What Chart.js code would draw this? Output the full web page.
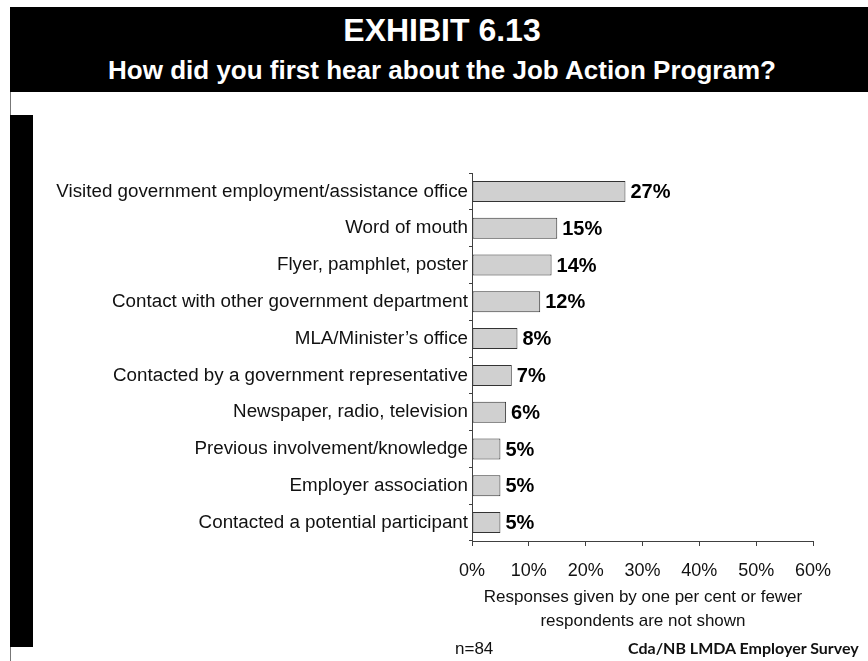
<!DOCTYPE html>
<html lang="en">
<head>
    <meta charset="UTF-8">
    <script src="https://cdn.jsdelivr.net/npm/chart.js@4.4.1/dist/chart.umd.min.js"></script>
    <title>Exhibit 6.13</title>
    <style>
        body { margin: 0; background: #fff; font-family: "Liberation Sans", Arial, sans-serif; }
        #page { position: relative; width: 868px; height: 661px; overflow: hidden; }
        #chart-area { position: absolute; left: 0; top: 0; }
        .header { position: absolute; left: 10px; top: 7px; width: 858px; height: 85px; background: #000; }
        .header div { position: absolute; left: 6px; right: 0; text-align: center; color: #fff; font-weight: bold; line-height: 1; white-space: nowrap; }
        .sidebar { position: absolute; left: 10px; top: 115px; width: 23px; height: 532px; background: #000; }
        .rule { position: absolute; left: 10px; top: 92px; width: 1px; height: 569px; background: #777; }
        .note { position: absolute; color: #111; font-size: 17px; line-height: 1; white-space: nowrap; }
    </style>
</head>
<body>
<div id="page">
    <canvas id="chart-area" width="868" height="661"></canvas>
    <div class="header">
        <div style="top: 7px; font-size: 32px;">EXHIBIT 6.13</div>
        <div style="top: 50px; font-size: 26px;">How did you first hear about the Job Action Program?</div>
    </div>
    <div class="rule"></div>
    <div class="sidebar"></div>
    <div class="note" style="left: 443px; width: 400px; text-align: center; top: 588px;">Responses given by one per cent or fewer</div>
    <div class="note" style="left: 443px; width: 400px; text-align: center; top: 612px;">respondents are not shown</div>
    <div class="note" style="left: 455px; top: 640px;">n=84</div>
    <div class="note" style="left: 628px; top: 640px; font-family: Lato, sans-serif; font-weight: bold; font-size: 16px;">Cda/NB LMDA Employer Survey</div>
</div>
<script type="text/javascript">
    var sources = [
        "Visited government employment/assistance office",
        "Word of mouth",
        "Flyer, pamphlet, poster",
        "Contact with other government department",
        "MLA/Minister\u2019s office",
        "Contacted by a government representative",
        "Newspaper, radio, television",
        "Previous involvement/knowledge",
        "Employer association",
        "Contacted a potential participant"
    ];
    var percents = [27, 15, 14, 12, 8, 7, 6, 5, 5, 5];
    var axisTicks = [0, 10, 20, 30, 40, 50, 60];

    var fontFamily = '"Liberation Sans", Arial, sans-serif';

    // writes the bold % figure just past the end of each bar
    var valueLabels = {
        id: 'valueLabels',
        afterDatasetsDraw: function(chart) {
            var ctx = chart.ctx;
            var meta = chart.getDatasetMeta(0);
            ctx.save();
            ctx.font = 'bold 20px ' + fontFamily;
            ctx.fillStyle = '#000';
            ctx.textBaseline = 'middle';
            ctx.textAlign = 'left';
            meta.data.forEach(function(bar, i) {
                ctx.fillText(percents[i] + '%', bar.x + 5, bar.y + 1);
            });
            ctx.restore();
        }
    };

    var config = {
        type: 'bar',
        data: {
            labels: sources,
            datasets: [{
                data: percents,
                backgroundColor: '#d0d0d0',
                borderColor: '#333333',
                borderWidth: 1,
                borderSkipped: false,
                barPercentage: 0.57,
                categoryPercentage: 1.0
            }]
        },
        options: {
            indexAxis: 'y',
            responsive: false,
            animation: false,
            devicePixelRatio: 1,
            layout: { padding: { left: 0, top: 173, right: 55, bottom: 80 } },
            plugins: {
                legend: { display: false },
                tooltip: { enabled: false }
            },
            scales: {
                x: {
                    min: 0,
                    max: 60,
                    afterBuildTicks: function(scale) {
                        scale.ticks = axisTicks.map(function(v) { return { value: v }; });
                    },
                    afterFit: function(scale) { scale.height = 40; },
                    border: { display: true, color: '#404040', width: 1 },
                    grid: { display: true, drawOnChartArea: false, drawTicks: true, tickLength: 5, color: '#404040' },
                    ticks: {
                        callback: function(v) { return v + '%'; },
                        color: '#111',
                        padding: 14,
                        maxRotation: 0,
                        font: { family: fontFamily, size: 18 }
                    }
                },
                y: {
                    afterFit: function(scale) { scale.width = 472; },
                    border: { display: true, color: '#404040', width: 1 },
                    grid: { display: true, drawOnChartArea: false, drawTicks: true, tickLength: 3, offset: true, color: '#404040' },
                    ticks: {
                        autoSkip: false,
                        color: '#111',
                        padding: 1,
                        font: { family: fontFamily, size: 18.8 }
                    }
                }
            }
        },
        plugins: [valueLabels]
    };

    var ctx = document.getElementById('chart-area').getContext('2d');
    window.myBar = new Chart(ctx, config);
</script>
</body>
</html>
